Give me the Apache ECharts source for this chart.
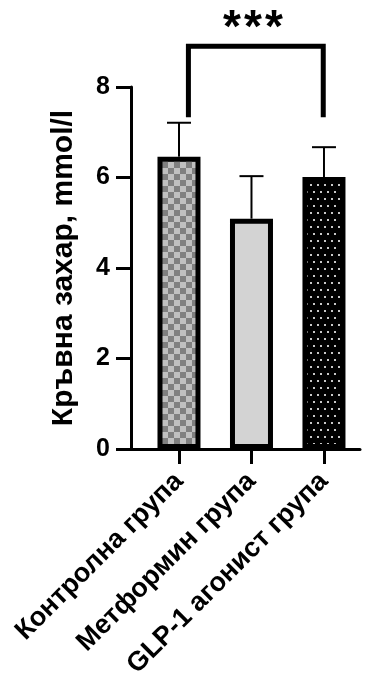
<!DOCTYPE html>
<html><head><meta charset="utf-8">
<script src="https://cdn.jsdelivr.net/npm/echarts@6/dist/echarts.min.js"></script>
<style>html,body{margin:0;padding:0;background:#fff}#c{width:372px;height:685px}</style>
</head><body><div id="c"></div>
<script>
// ---- data ----
const categories = ['Контролна група', 'Метформин група', 'GLP-1 агонист група'];
const means = [6.46, 5.09, 6.01];
const errors = [0.75, 0.94, 0.66];
const yTicks = [0, 2, 4, 6, 8];
const yAxisName = 'Кръвна захар, mmol/l';
const bracketLegsX = [0.13, 1.99];   // bracket leg positions (category units)
const bracketLevels = [7.33, 8.9];   // leg bottom, bracket top
const sigText = '***';
const sigPos = [1.02, 9.27];

// ---- fill patterns ----
function checkerTile() {
  const c = document.createElement('canvas'); c.width = 12; c.height = 12;
  const g = c.getContext('2d');
  g.fillStyle = '#c0c0c0'; g.fillRect(0, 0, 12, 12);
  g.fillStyle = '#808080'; g.fillRect(0, 0, 6, 6); g.fillRect(6, 6, 6, 6);
  return c;
}
function dotTile() {
  const c = document.createElement('canvas'); c.width = 14; c.height = 14;
  const g = c.getContext('2d');
  g.fillStyle = '#000'; g.fillRect(0, 0, 14, 14);
  g.fillStyle = '#c8c8c8';
  [[2, 2], [9, 2], [5, 9], [12, 9]].forEach(p => g.fillRect(p[0], p[1], 2, 2));
  return c;
}
const fills = [
  { image: checkerTile(), repeat: 'repeat' },
  '#d3d3d3',
  { image: dotTile(), repeat: 'repeat' }
];

const FONT = '"Liberation Sans", Arial, sans-serif';
const chart = echarts.init(document.getElementById('c'), null, { renderer: 'canvas' });

chart.setOption({
  animation: false,
  backgroundColor: '#fff',
  textStyle: { fontFamily: FONT },
  grid: { left: 131, right: 12, top: 87, bottom: 236, containLabel: false, outerBoundsMode: 'none' },
  xAxis: {
    type: 'value',
    min: -0.662, max: 2.497,
    splitLine: { show: false },
    axisLine: { show: true, onZero: false, lineStyle: { color: '#000', width: 3 } },
    axisTick: { show: true, customValues: [0, 1, 2], length: 15, lineStyle: { color: '#000', width: 3 } },
    axisLabel: {
      customValues: [0, 1, 2],
      formatter: v => categories[Math.round(v)],
      rotate: 45, margin: 28,
      fontSize: 27, fontWeight: 'bold', color: '#000', fontFamily: FONT
    }
  },
  yAxis: {
    type: 'value', min: 0, max: 8, interval: 2,
    splitLine: { show: false },
    name: yAxisName, nameLocation: 'middle', nameGap: 52, nameRotate: 90,
    nameTextStyle: { fontSize: 30, fontWeight: 'bold', color: '#000', fontFamily: FONT },
    axisLine: { show: true, onZero: false, lineStyle: { color: '#000', width: 3 } },
    axisTick: { show: true, length: 15, lineStyle: { color: '#000', width: 3 } },
    axisLabel: {
      margin: 21, fontSize: 25, fontWeight: 'bold', color: '#000', fontFamily: FONT,
      formatter: v => (yTicks.indexOf(v) >= 0 ? String(v) : '')
    }
  },
  series: [
    {
      type: 'bar',
      barWidth: 43,
      data: categories.map((c, i) => ({
        value: [i, means[i]],
        itemStyle: { color: fills[i], borderColor: '#000', borderWidth: 5 }
      })),
      z: 2
    },
    {
      type: 'custom', clip: false, z: 3,
      encode: { x: 0, y: [1, 2] },
      data: categories.map((c, i) => [i, means[i], means[i] + errors[i]]),
      renderItem(params, api) {
        const x = api.value(0);
        const p0 = api.coord([x, api.value(1)]);
        const p1 = api.coord([x, api.value(2)]);
        const hw = 12;
        return {
          type: 'group', children: [
            { type: 'line', shape: { x1: p0[0], y1: p0[1], x2: p1[0], y2: p1[1] }, style: { stroke: '#000', lineWidth: 2 } },
            { type: 'line', shape: { x1: p1[0] - hw, y1: p1[1], x2: p1[0] + hw, y2: p1[1] }, style: { stroke: '#000', lineWidth: 2 } }
          ]
        };
      }
    },
    {
      type: 'custom', clip: false, z: 4,
      encode: { x: [0, 1, 4], y: [2, 3, 5] },
      data: [[bracketLegsX[0], bracketLegsX[1], bracketLevels[0], bracketLevels[1], sigPos[0], sigPos[1]]],
      renderItem(params, api) {
        const x0 = api.value(0), x1 = api.value(1), yb = api.value(2), yt = api.value(3);
        const a = api.coord([x0, yb]), b = api.coord([x0, yt]), c = api.coord([x1, yt]), d = api.coord([x1, yb]);
        const s = api.coord([api.value(4), api.value(5)]);
        const chars = sigText.split('');
        const step = 21;
        const children = [
          { type: 'polyline', shape: { points: [a, b, c, d] }, style: { stroke: '#000', lineWidth: 5, fill: null, lineJoin: 'miter' } }
        ];
        chars.forEach((ch, k) => {
          children.push({
            type: 'text',
            style: {
              text: ch, x: s[0] + (k - (chars.length - 1) / 2) * step, y: s[1],
              align: 'center', verticalAlign: 'middle',
              font: 'bold 46px ' + FONT, fill: '#000'
            }
          });
        });
        return { type: 'group', children };
      }
    }
  ]
});
</script>
</body></html>
